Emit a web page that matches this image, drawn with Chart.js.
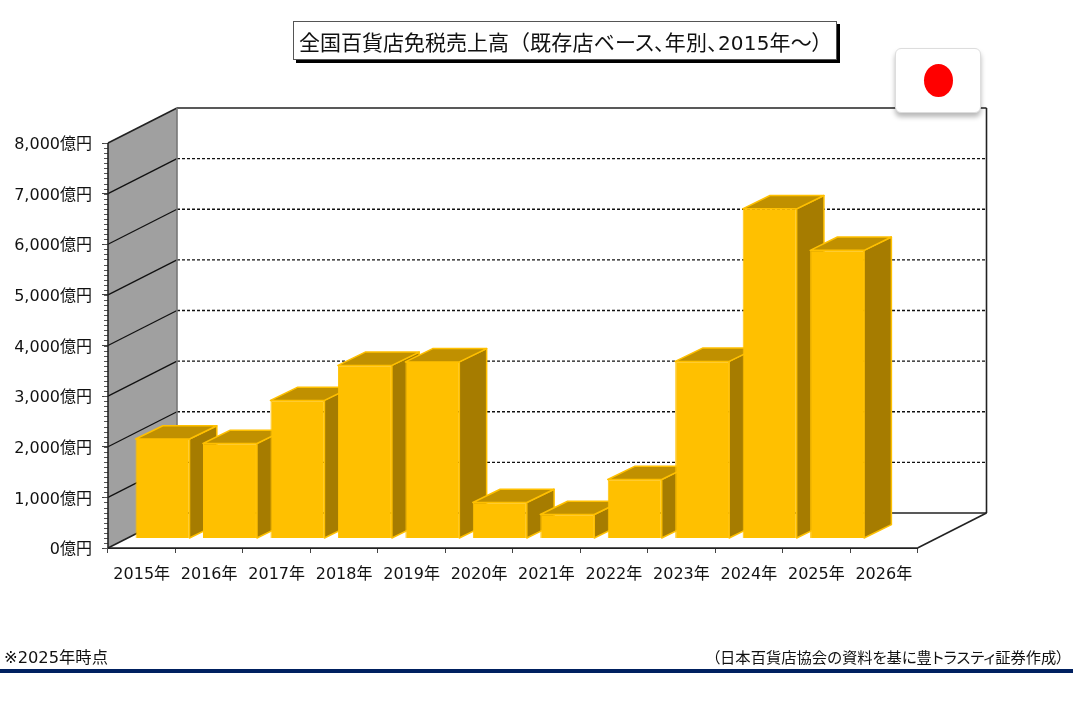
<!DOCTYPE html>
<html lang="ja">
<head>
<meta charset="utf-8">
<title>全国百貨店免税売上高</title>
<script src="https://cdn.jsdelivr.net/npm/chart.js@4"></script>
<style>
    html, body { margin: 0; padding: 0; background: #fff; }
    body { width: 1074px; height: 707px; position: relative; overflow: hidden; font-family: "DejaVu Sans", "Noto Sans CJK JP", sans-serif; color: #111; }
    canvas { position: absolute; left: 0; top: 0; }
    .title { position: absolute; left: 293px; top: 21px; width: 544px; height: 39px; box-sizing: border-box; border: 1px solid #555; background: #fff; box-shadow: 3px 3px 0 #000; font-size: 21px; line-height: 38px; padding-left: 5px; white-space: nowrap; font-family: "Noto Sans CJK JP", sans-serif; }
    .title span { font-feature-settings: "palt"; letter-spacing: .2px; }
    .title b { font-weight: normal; font-family: "DejaVu Sans", sans-serif; font-size: 20px; }
    .flag { position: absolute; left: 895px; top: 48px; width: 86px; height: 65px; box-sizing: border-box; background: #fff; border: 1px solid #ddd; border-radius: 6px; box-shadow: 0 4px 5px rgba(0,0,0,.28); }
    .flag i { position: absolute; left: 28px; top: 15px; width: 29px; height: 33px; border-radius: 50%; background: #f00; }
    .note { position: absolute; top: 648px; font-size: 16.3px; line-height: 20px; white-space: nowrap; }
    .note.src { font-size: 15.3px; font-feature-settings: "palt"; }
    .rule { position: absolute; left: 0; top: 669px; width: 1073px; height: 3.5px; background: #002060; }
</style>
</head>
<body>
<canvas id="meuGrafico" width="1074" height="707"></canvas>
<div class="title">全国百貨店免税売上高&#xFF08;<span>既存店ベース、年別、<b>2015</b>年&#xFF5E;&#xFF09;</span></div>
<div class="flag"><i></i></div>
<div class="note" style="left:4px">※2025年時点</div>
<div class="note src" style="right:10px">&#xFF08;日本百貨店協会の資料を基に豊トラスティ証券作成&#xFF09;</div>
<div class="rule"></div>
<script>
const years = ['2015年', '2016年', '2017年', '2018年', '2019年', '2020年', '2021年', '2022年', '2023年', '2024年', '2025年', '2026年'];
const sales = [1965, 1877, 2727, 3419, 3488, 711, 474, 1166, 3498, 6512, 5692, null];
const yMax = 8000;
const yStep = 1000;
const yMinorStep = 100;

// depth of the fake 3D box
const wallDx = 69, wallDy = -35;
const barShiftX = 20.8, barShiftY = -9.5;
const barDepthX = 27.3, barDepthY = -13.3;

function poly(ctx, pts, fill, stroke) {
    ctx.beginPath();
    pts.forEach((p, i) => i ? ctx.lineTo(p[0], p[1]) : ctx.moveTo(p[0], p[1]));
    ctx.closePath();
    if (fill) { ctx.fillStyle = fill; ctx.fill(); }
    if (stroke) { ctx.strokeStyle = stroke; ctx.stroke(); }
}

function line(ctx, x1, y1, x2, y2) {
    ctx.beginPath();
    ctx.moveTo(x1, y1);
    ctx.lineTo(x2, y2);
    ctx.stroke();
}

function drawBox(chart) {
    const ctx = chart.ctx;
    const a = chart.chartArea;
    const yScale = chart.scales.y;
    ctx.save();

    // left wall
    poly(ctx, [[a.left, a.top], [a.left + wallDx, a.top + wallDy], [a.left + wallDx, a.bottom + wallDy], [a.left, a.bottom]], '#a0a0a0');

    // grid lines, wall part solid, back part dashed
    ctx.lineWidth = 1.3;
    ctx.strokeStyle = '#111';
    for (let v = yStep; v < yMax; v += yStep) {
        const y = yScale.getPixelForValue(v);
        ctx.setLineDash([]);
        line(ctx, a.left, y, a.left + wallDx, y + wallDy);
        ctx.setLineDash([3, 2]);
        line(ctx, a.left + wallDx, y + wallDy, a.right + wallDx, y + wallDy);
    }
    ctx.setLineDash([]);

    // minor ticks on the y axis
    ctx.lineWidth = 1;
    ctx.strokeStyle = '#555';
    for (let v = 0; v <= yMax; v += yMinorStep) {
        const y = Math.round(yScale.getPixelForValue(v)) + 0.5;
        line(ctx, a.left - 4, y, a.left, y);
    }

    // frame of the box
    ctx.strokeStyle = '#222';
    ctx.lineWidth = 1.6;
    line(ctx, a.left, a.top, a.left, a.bottom);
    line(ctx, a.left, a.top, a.left + wallDx, a.top + wallDy);
    line(ctx, a.left + wallDx, a.top + wallDy, a.right + wallDx, a.top + wallDy);
    line(ctx, a.right + wallDx, a.top + wallDy, a.right + wallDx, a.bottom + wallDy);
    line(ctx, a.left, a.bottom, a.left + wallDx, a.bottom + wallDy);
    line(ctx, a.left + wallDx, a.bottom + wallDy, a.right + wallDx, a.bottom + wallDy);
    line(ctx, a.right, a.bottom, a.right + wallDx, a.bottom + wallDy);
    line(ctx, a.left, a.bottom, a.right, a.bottom);
    ctx.strokeStyle = '#777';
    line(ctx, a.left + wallDx, a.top + wallDy, a.left + wallDx, a.bottom + wallDy);
    ctx.restore();
}

function drawBarSides(chart) {
    const ctx = chart.ctx;
    const dx = barDepthX, dy = barDepthY;
    ctx.save();
    ctx.lineWidth = 1.5;
    ctx.lineJoin = 'round';
    chart.getDatasetMeta(0).data.forEach((bar, i) => {
        if (sales[i] === null) return;
        const p = bar.getProps(['x', 'y', 'base', 'width'], true);
        const l = p.x - p.width / 2 + barShiftX;
        const r = p.x + p.width / 2 + barShiftX;
        const t = p.y + barShiftY;
        const b = p.base + barShiftY;
        poly(ctx, [[r, t], [r + dx, t + dy], [r + dx, b + dy], [r, b]], '#a67c00', '#ffc000');
        poly(ctx, [[l, t], [l + dx, t + dy], [r + dx, t + dy], [r, t]], '#c09000', '#ffc000');
    });
    ctx.restore();
}

const box3d = {
    id: 'box3d',
    beforeDatasetsDraw(chart) {
        drawBox(chart);
        drawBarSides(chart);
        chart.ctx.save();
        chart.ctx.translate(barShiftX, barShiftY);
    },
    afterDatasetsDraw(chart) {
        chart.ctx.restore();
    }
};

const axisFont = { family: '"DejaVu Sans", "Noto Sans CJK JP", sans-serif', size: 16 };

new Chart(document.getElementById('meuGrafico'), {
    type: 'bar',
    data: {
        labels: years,
        datasets: [{
            data: sales,
            backgroundColor: '#ffc000',
            borderColor: '#ffc000',
            borderWidth: 1,
            barPercentage: 0.8,
            categoryPercentage: 1,
            clip: false
        }]
    },
    options: {
        responsive: false,
        animation: false,
        layout: { padding: { top: 143, right: 156.5, left: 0, bottom: 0 } },
        plugins: { legend: { display: false }, title: { display: false }, tooltip: { enabled: false } },
        scales: {
            x: {
                afterFit: s => { s.height = 159; },
                border: { color: '#222' },
                grid: { drawOnChartArea: false, tickLength: 5, color: '#444' },
                ticks: { color: '#111', font: axisFont, padding: 12, maxRotation: 0, autoSkip: false }
            },
            y: {
                min: 0,
                max: yMax,
                afterFit: s => { s.width = 108; },
                border: { color: '#222' },
                grid: { drawOnChartArea: false, tickLength: 6, color: '#444' },
                ticks: {
                    stepSize: yStep,
                    color: '#111',
                    font: axisFont,
                    padding: 10,
                    labelOffset: 2,
                    callback: v => v.toLocaleString('en-US') + '億円'
                }
            }
        }
    },
    plugins: [box3d]
});
</script>
</body>
</html>
